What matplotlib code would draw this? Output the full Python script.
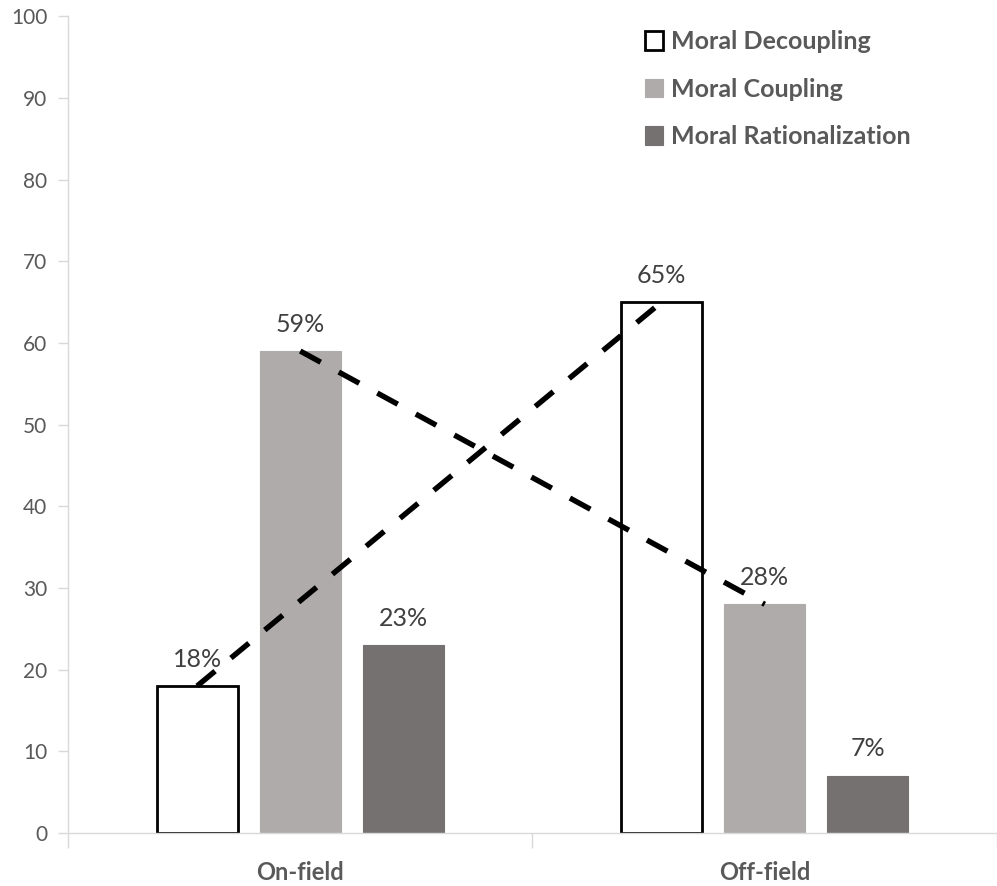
import numpy as np
import matplotlib.pyplot as plt

plt.rcParams['font.family'] = ['Lato', 'DejaVu Sans']

categories = ["On-field", "Off-field"]
series = ["Moral Decoupling", "Moral Coupling", "Moral Rationalization"]
decoupling = [18, 65]
coupling = [59, 28]
rationalization = [23, 7]

values = [decoupling, coupling, rationalization]
faces = ["white", "#AFABAB", "#767171"]
edges = ["black", "#AFABAB", "#767171"]

fig = plt.figure(figsize=(9.97, 8.86), dpi=100)
ax = fig.add_axes([0.0682, 0.0598, 0.9318, 0.922])

x = np.arange(len(categories))
width = 0.174
step = 0.222
grey = "#595959"

for i, (name, vals) in enumerate(zip(series, values)):
    pos = x + (i - 1) * step
    ax.bar(pos, vals, width, color=faces[i], edgecolor=edges[i],
           linewidth=2 if i == 0 else 0.8, label=name, zorder=2)
    for p, v in zip(pos, vals):
        ax.annotate(f"{v}%", (p, v), xytext=(0, 14), textcoords="offset points",
                    ha="center", va="baseline", fontsize=18,
                    color="#404040", zorder=4)

# dashed trend lines linking the tops of the decoupling and coupling bars
dash = (0, (4.3, 3.8))
ax.plot(x - step, decoupling, ls=dash, lw=3.9, color="black",
        dash_capstyle="butt", zorder=3)
ax.plot(x, coupling, ls=dash, lw=3.9, color="black",
        dash_capstyle="butt", zorder=3)

ax.set_xlim(-0.5, 1.5)
ax.set_ylim(0, 100)
ax.set_yticks(range(0, 101, 10))
ax.tick_params(axis="y", colors="#D9D9D9", labelcolor=grey, labelsize=15,
               length=7, width=1, pad=8)

ax.set_xticks(x)
ax.set_xticklabels(categories, fontsize=17, fontweight="bold", color=grey)
ax.tick_params(axis="x", length=0, pad=20)
ax.set_xticks([-0.5, 0.5, 1.5], minor=True)
ax.tick_params(axis="x", which="minor", length=11, color="#D9D9D9", width=1)

for s in ["top", "right"]:
    ax.spines[s].set_visible(False)
for s in ["left", "bottom"]:
    ax.spines[s].set_color("#D9D9D9")
    ax.spines[s].set_linewidth(1)

leg = ax.legend(loc="upper left", bbox_to_anchor=(0.61, 0.995), frameon=False,
                prop={"size": 18, "weight": "bold"}, handlelength=0.75,
                handleheight=0.75, handletextpad=0.3, labelspacing=0.98,
                labelcolor=grey, borderaxespad=0)

fig.savefig("out.png", dpi=100)
